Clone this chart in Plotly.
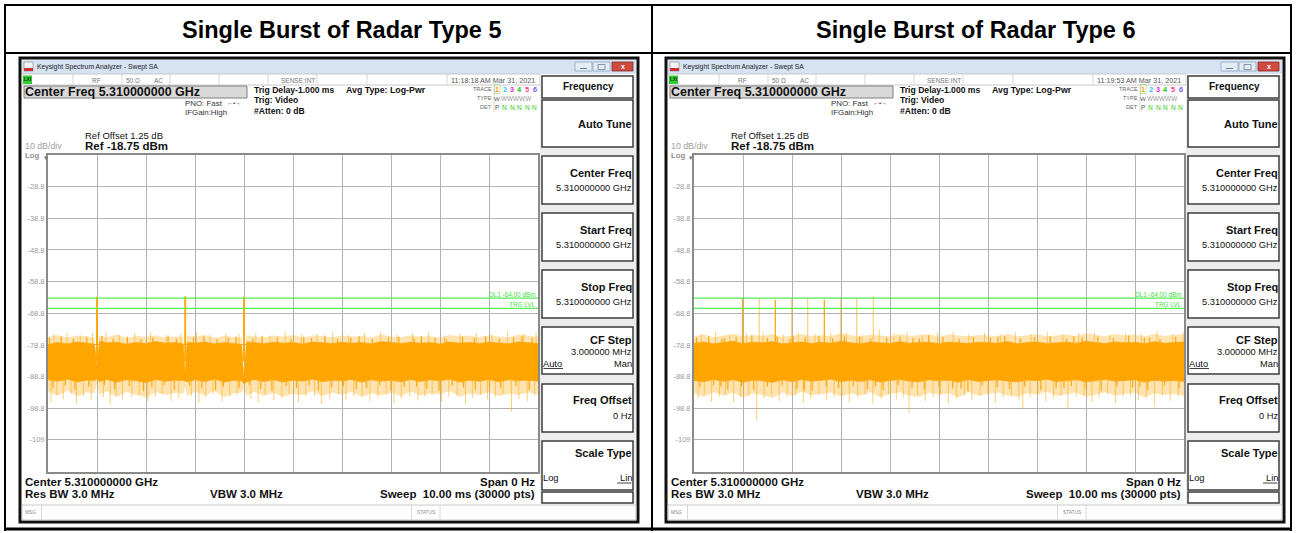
import plotly.graph_objects as go

W, H = 1296, 533
FONT = "Liberation Sans"

# ---------------- data ----------------
panel_titles = ["Single Burst of Radar Type 5", "Single Burst of Radar Type 6"]
timestamps = ["11:18:18 AM Mar 31, 2021", "11:19:53 AM Mar 31, 2021"]
sweep_ms = [0, 10]
ref_level = -18.75
bottom_level = -118.75
y_tick_vals = [-28.75, -38.75, -48.75, -58.75, -68.75, -78.75, -88.75, -98.75, -108.75]
y_tick_text = ["-28.8", "-38.8", "-48.8", "-58.8", "-68.8", "-78.8", "-88.8", "-98.8", "-109"]
dl1_level = -64.0
trg_level = -67.2
noise_mid = -84.0

# Type 5 noise band (ms, dBm)
t5 = [0.0, 0.2, 0.4, 0.6, 0.8, 0.95, 1.0, 1.05, 1.2, 1.4,
      1.6, 1.8, 2.0, 2.2, 2.4, 2.6, 2.76, 2.8, 2.84, 3.0,
      3.2, 3.4, 3.6, 3.8, 3.95, 4.0, 4.05, 4.2, 4.4, 4.6,
      4.8, 5.0, 5.2, 5.4, 5.6, 5.8, 6.0, 6.2, 6.4, 6.6,
      6.8, 7.0, 7.2, 7.4, 7.6, 7.8, 8.0, 8.2, 8.4, 8.6,
      8.8, 9.0, 9.2, 9.4, 9.6, 9.8, 10.0]
core5_hi = [-78.6, -78.0, -78.4, -77.8, -78.2, -78.5, -86.0, -77.6, -78.1, -77.9,
            -78.5, -78.0, -78.3, -77.7, -78.2, -78.0, -78.4, -88.0, -77.9, -78.2,
            -77.8, -78.4, -78.0, -78.3, -78.6, -90.0, -77.8, -78.0, -78.4, -77.9,
            -78.2, -78.0, -78.5, -77.8, -78.1, -78.3, -77.9, -78.2, -78.0, -78.4,
            -77.7, -78.1, -78.3, -77.9, -78.2, -78.0, -78.5, -77.8, -78.2, -78.0,
            -78.3, -77.9, -78.1, -78.4, -77.8, -78.0, -78.3]
core5_lo = [-89.8, -90.2, -89.6, -90.4, -89.9, -90.0, -89.5, -90.3, -89.7, -90.5,
            -89.8, -90.1, -90.6, -89.7, -90.2, -89.9, -90.0, -90.2, -90.4, -89.8,
            -90.3, -89.6, -90.5, -89.9, -90.1, -91.0, -90.4, -89.7, -90.3, -89.8,
            -90.5, -89.9, -90.2, -89.6, -90.4, -89.9, -90.1, -89.7, -90.5, -89.8,
            -90.2, -89.9, -90.4, -89.7, -90.3, -89.8, -90.1, -89.6, -90.5, -89.9,
            -90.2, -89.7, -90.4, -89.8, -90.1, -89.9, -90.2]
outer5_hi = [-76.2, -75.6, -76.4, -75.8, -76.0, -76.5, -86.0, -75.9, -76.3, -75.5,
             -76.6, -75.9, -76.2, -75.7, -76.4, -76.0, -76.3, -88.0, -75.8, -76.1,
             -75.6, -76.5, -75.9, -76.2, -76.6, -90.0, -75.7, -76.0, -76.4, -75.8,
             -76.1, -75.6, -76.5, -75.7, -76.0, -76.3, -75.8, -76.2, -75.9, -76.4,
             -75.5, -76.1, -76.3, -75.7, -76.2, -75.9, -76.5, -75.6, -76.0, -75.8,
             -76.3, -75.7, -76.1, -76.4, -75.5, -75.9, -76.2]
outer5_lo = [-93.5, -94.8, -93.2, -95.0, -93.8, -94.0, -91.0, -94.5, -93.4, -95.2,
             -93.6, -94.4, -95.4, -93.7, -94.6, -93.9, -94.2, -92.0, -95.0, -93.5,
             -94.7, -93.3, -95.3, -94.0, -93.8, -92.5, -94.9, -93.6, -94.8, -93.9,
             -95.1, -94.2, -94.6, -93.4, -95.0, -93.8, -94.5, -93.6, -95.2, -94.0,
             -94.7, -93.9, -95.0, -93.5, -94.8, -94.1, -94.4, -93.3, -95.1, -94.0,
             -94.6, -93.7, -95.0, -94.2, -94.5, -93.8, -94.4]
# faint hairline tips
t5_dn = [0.06, 0.18, 0.31, 0.47, 0.58, 0.72, 0.88, 1.13, 1.27, 1.39,
         1.52, 1.71, 1.86, 2.04, 2.19, 2.33, 2.51, 2.67, 2.93, 3.08,
         3.22, 3.37, 3.55, 3.71, 3.86, 4.14, 4.29, 4.43, 4.61, 4.77,
         4.92, 5.11, 5.26, 5.44, 5.58, 5.75, 5.93, 6.08, 6.24, 6.41,
         6.57, 6.73, 6.9, 7.06, 7.21, 7.38, 7.55, 7.69, 7.84, 8.03,
         8.18, 8.35, 8.52, 8.66, 8.83, 8.97, 9.13, 9.29, 9.46, 9.61,
         9.78, 9.93]
v5_dn = [-96.8, -94.5, -95.9, -94.2, -97.3, -95.0, -96.2, -95.4, -97.6, -94.8,
         -96.0, -95.2, -94.6, -96.7, -95.1, -94.3, -96.4, -95.7, -94.9, -97.1,
         -95.3, -94.4, -96.6, -95.0, -94.7, -95.8, -97.0, -94.5, -96.1, -95.5,
         -94.2, -96.9, -95.0, -94.6, -97.4, -95.7, -94.3, -96.2, -95.1, -94.8,
         -96.5, -95.3, -94.4, -97.2, -95.6, -94.9, -96.3, -95.0, -94.5, -96.8,
         -95.2, -94.7, -97.5, -95.4, -94.6, -96.0, -95.1, -94.3, -99.8, -95.9,
         -96.6, -94.8]
t5_up = [0.12, 0.39, 0.66, 0.91, 1.18, 1.46, 1.77, 2.09, 2.41, 2.71,
         3.03, 3.31, 3.63, 3.9, 4.24, 4.53, 4.84, 5.17, 5.49, 5.81,
         6.13, 6.46, 6.79, 7.12, 7.44, 7.77, 8.09, 8.41, 8.74, 9.06,
         9.38, 9.71, 9.96]
v5_up = [-75.4, -74.9, -75.8, -75.1, -74.6, -75.5, -75.0, -74.8, -75.7, -75.2,
         -74.7, -75.6, -75.0, -75.3, -74.9, -75.8, -74.5, -75.4, -75.1, -74.8,
         -75.6, -75.0, -74.7, -75.5, -75.2, -74.6, -75.7, -75.0, -74.9, -75.4,
         -74.5, -75.1, -74.8]
# solid edge jags
t5_jup = [0.03, 0.27, 0.52, 0.79, 1.1, 1.33, 1.62, 1.9, 2.14, 2.45,
          2.62, 2.97, 3.18, 3.45, 3.68, 3.84, 4.18, 4.37, 4.68, 4.96,
          5.22, 5.38, 5.65, 5.91, 6.18, 6.35, 6.62, 6.95, 7.16, 7.47,
          7.62, 7.9, 8.13, 8.46, 8.7, 8.93, 9.21, 9.5, 9.67, 9.88]
v5_jup = [-76.6, -76.1, -76.9, -76.3, -75.9, -76.7, -76.2, -77.0, -76.4, -75.8,
          -76.8, -76.3, -76.0, -76.9, -76.5, -76.1, -76.7, -75.9, -76.4, -77.0,
          -76.2, -76.6, -75.8, -76.8, -76.3, -76.0, -76.9, -76.4, -76.1, -76.7,
          -75.9, -76.5, -77.0, -76.2, -76.6, -76.0, -76.8, -76.3, -75.9, -76.5]
t5_jdn = [0.1, 0.35, 0.55, 0.83, 1.15, 1.36, 1.66, 1.95, 2.12, 2.37,
          2.58, 2.89, 3.14, 3.42, 3.58, 3.9, 4.11, 4.34, 4.57, 4.86,
          5.07, 5.33, 5.52, 5.79, 6.03, 6.29, 6.5, 6.77, 7.0, 7.27,
          7.52, 7.73, 7.98, 8.25, 8.48, 8.72, 9.01, 9.24, 9.55, 9.82]
v5_jdn = [-92.4, -91.6, -93.0, -92.0, -91.4, -92.8, -91.8, -93.3, -92.2, -91.5,
          -92.9, -91.7, -92.5, -93.1, -91.9, -92.3, -91.5, -92.7, -93.2, -91.8,
          -92.4, -91.6, -93.0, -92.1, -91.7, -92.8, -92.3, -91.5, -93.1, -92.0,
          -91.8, -92.6, -93.3, -91.6, -92.2, -92.9, -91.9, -92.5, -91.7, -93.0]
spike5_t = [1.0, 2.8, 4.0]
spike5_v = [-63.5, -63.4, -63.5]

# Type 6 noise band
t6 = [0.0, 0.2, 0.4, 0.6, 0.8, 1.0, 1.2, 1.4, 1.6, 1.8,
      2.0, 2.2, 2.4, 2.6, 2.8, 3.0, 3.2, 3.4, 3.6, 3.8,
      4.0, 4.2, 4.4, 4.6, 4.8, 5.0, 5.2, 5.4, 5.6, 5.8,
      6.0, 6.2, 6.4, 6.6, 6.8, 7.0, 7.2, 7.4, 7.6, 7.8,
      8.0, 8.2, 8.4, 8.6, 8.8, 9.0, 9.2, 9.4, 9.6, 9.8, 10.0]
core6_hi = [-78.2, -77.8, -78.4, -78.0, -77.6, -78.3, -77.9, -78.1, -77.7, -78.4,
            -78.0, -77.8, -78.3, -77.9, -78.2, -77.6, -78.1, -78.4, -77.8, -78.0,
            -78.3, -77.7, -78.2, -78.0, -77.9, -78.4, -77.8, -78.1, -78.3, -77.9,
            -78.0, -78.2, -77.7, -78.4, -78.0, -77.8, -78.3, -78.1, -77.9, -78.2,
            -77.6, -78.0, -78.3, -77.8, -78.1, -77.9, -78.4, -77.7, -78.2, -78.0, -77.8]
core6_lo = [-90.0, -90.4, -89.7, -90.2, -89.8, -90.5, -89.9, -90.1, -90.6, -89.8,
            -90.3, -89.7, -90.2, -90.0, -89.6, -90.4, -89.9, -90.3, -89.8, -90.5,
            -90.0, -89.7, -90.2, -90.4, -89.8, -90.1, -89.9, -90.5, -89.7, -90.3,
            -90.0, -89.8, -90.2, -90.4, -89.9, -90.1, -89.6, -90.3, -90.0, -89.8,
            -90.4, -90.1, -89.7, -90.2, -90.0, -89.8, -90.5, -89.9, -90.2, -90.0, -90.3]
outer6_hi = [-76.0, -75.5, -76.3, -75.7, -75.2, -76.1, -75.6, -75.9, -75.3, -76.2,
             -75.8, -75.4, -76.0, -75.6, -75.9, -75.1, -75.7, -76.2, -75.5, -75.8,
             -76.1, -75.3, -75.9, -75.6, -75.4, -76.2, -75.5, -75.8, -76.0, -75.6,
             -75.7, -75.9, -75.2, -76.1, -75.7, -75.4, -76.0, -75.8, -75.5, -75.9,
             -75.1, -75.6, -76.0, -75.3, -75.8, -75.5, -76.1, -75.2, -75.9, -75.6, -75.4]
outer6_lo = [-94.0, -95.2, -93.6, -94.8, -93.9, -95.4, -94.1, -94.6, -95.5, -93.7,
             -94.9, -93.5, -94.7, -94.2, -93.8, -95.1, -94.0, -94.8, -93.6, -95.3,
             -94.3, -93.7, -94.9, -95.2, -93.9, -94.5, -94.0, -95.4, -93.6, -94.8,
             -94.2, -93.8, -94.7, -95.1, -94.0, -94.5, -93.5, -94.9, -94.3, -93.8,
             -95.2, -94.4, -93.7, -94.8, -94.1, -93.9, -95.3, -94.0, -94.6, -94.2, -94.9]
t6_dn = [0.08, 0.21, 0.36, 0.52, 0.64, 0.81, 0.95, 1.12, 1.28, 1.43,
         1.58, 1.74, 1.9, 2.07, 2.23, 2.38, 2.55, 2.71, 2.86, 3.02,
         3.17, 3.34, 3.49, 3.65, 3.82, 3.97, 4.13, 4.27, 4.39, 4.56,
         4.72, 4.88, 5.03, 5.19, 5.36, 5.52, 5.67, 5.84, 6.0, 6.15,
         6.31, 6.48, 6.63, 6.71, 6.86, 7.02, 7.18, 7.34, 7.49, 7.63,
         7.8, 7.96, 8.12, 8.27, 8.44, 8.6, 8.76, 8.91, 9.07, 9.23,
         9.4, 9.56, 9.72, 9.88]
v6_dn = [-95.6, -94.4, -96.8, -95.0, -94.6, -97.1, -95.3, -94.8, -102.5, -95.7,
         -94.3, -96.4, -95.1, -94.7, -97.0, -95.5, -94.2, -96.2, -95.0, -94.9,
         -96.7, -95.2, -94.5, -97.3, -95.8, -94.4, -96.0, -95.4, -100.3, -94.6,
         -96.5, -95.1, -94.3, -97.2, -95.6, -94.8, -96.1, -95.0, -94.5, -96.9,
         -95.3, -94.7, -96.3, -99.0, -95.2, -94.4, -96.6, -95.7, -94.9, -98.7,
         -95.0, -94.6, -96.8, -95.4, -94.3, -97.0, -95.1, -94.8, -96.2, -95.5,
         -98.2, -94.7, -96.4, -95.0]
t6_up = [0.15, 0.44, 0.73, 1.07, 1.41, 1.82, 2.13, 2.47, 2.79, 3.11,
         3.43, 3.78, 4.08, 4.35, 4.66, 4.97, 5.29, 5.61, 5.93, 6.25,
         6.56, 6.88, 7.21, 7.53, 7.85, 8.17, 8.49, 8.81, 9.13, 9.45,
         9.77, 9.98]
v6_up = [-75.2, -74.7, -75.6, -75.0, -74.8, -75.4, -74.6, -75.3, -75.0, -74.9,
         -75.5, -73.8, -75.1, -74.7, -75.6, -75.0, -74.5, -75.3, -74.9, -75.5,
         -74.8, -75.2, -74.6, -75.4, -75.0, -74.7, -75.5, -74.9, -75.2, -74.4,
         -75.3, -74.8]
t6_jup = [0.05, 0.3, 0.57, 0.86, 1.18, 1.5, 1.7, 1.96, 2.27, 2.55,
          2.83, 3.07, 3.38, 3.6, 3.93, 4.2, 4.47, 4.79, 5.08, 5.41,
          5.7, 6.05, 6.34, 6.66, 6.95, 7.27, 7.6, 7.92, 8.24, 8.56,
          8.87, 9.19, 9.51, 9.83, 0.62, 2.02, 4.6, 6.2, 7.75, 9.3]
v6_jup = [-76.4, -76.0, -76.8, -76.2, -75.8, -76.6, -76.1, -76.9, -76.3, -75.9,
          -76.7, -76.2, -76.0, -76.8, -76.4, -76.1, -76.6, -75.7, -76.3, -76.9,
          -76.2, -76.5, -75.9, -76.7, -76.3, -76.0, -76.8, -76.4, -76.1, -76.6,
          -75.8, -76.5, -76.9, -76.2, -76.6, -76.0, -76.7, -76.3, -75.9, -76.4]
t6_jdn = [0.12, 0.4, 0.69, 0.97, 1.22, 1.5, 1.8, 2.1, 2.41, 2.7,
          2.95, 3.25, 3.54, 3.86, 4.17, 4.45, 4.7, 5.0, 5.28, 5.59,
          5.88, 6.19, 6.44, 6.75, 7.08, 7.39, 7.7, 8.0, 8.31, 8.63,
          8.95, 9.26, 9.6, 9.9, 0.55, 2.25, 3.7, 5.45, 7.55, 9.1]
v6_jdn = [-92.2, -91.5, -92.9, -91.8, -93.1, -92.0, -91.6, -92.7, -93.2, -91.9,
          -92.4, -91.7, -92.8, -93.0, -91.5, -92.3, -92.9, -91.8, -92.5, -93.3,
          -91.6, -92.1, -92.8, -91.9, -93.0, -92.4, -91.7, -92.6, -93.2, -91.8,
          -92.2, -92.9, -91.6, -92.5, -92.0, -93.1, -91.8, -92.6, -92.3, -91.9]
spike6_strong_t = [0.99, 1.66, 2.66]
spike6_strong_v = [-64.0, -64.5, -64.5]
spike6_faint_t = [1.33, 1.99, 2.32, 2.99, 3.32, 3.66]
spike6_faint_v = [-64.0, -64.0, -63.7, -63.7, -64.0, -63.3]

# ---------------- helpers ----------------
fig = go.Figure()
shapes, annos = [], []


def px(x):
    return x / W


def py(y):
    return 1 - y / H


def txt(x, y, s, size, color="#000", anchor="left", bold=False):
    if bold:
        s = "<b>" + s + "</b>"
    annos.append(dict(x=px(x), y=py(y), xref="paper", yref="paper", text=s,
                      showarrow=False, xanchor=anchor, yanchor="middle",
                      borderpad=0, borderwidth=0,
                      font=dict(size=size, color=color, family=FONT)))


def rect(x0, y0, x1, y1, fill="rgba(0,0,0,0)", line="rgba(0,0,0,0)", lw=0, layer="below"):
    shapes.append(dict(type="rect", xref="paper", yref="paper",
                       x0=px(x0), x1=px(x1), y0=py(y1), y1=py(y0),
                       fillcolor=fill, line=dict(color=line, width=lw), layer=layer))


def seg(x0, y0, x1, y1, color, lw, layer="above"):
    shapes.append(dict(type="line", xref="paper", yref="paper",
                       x0=px(x0), x1=px(x1), y0=py(y0), y1=py(y1),
                       line=dict(color=color, width=lw), layer=layer))


def hair(ts, vs, base):
    xs, ys = [], []
    for t, v in zip(ts, vs):
        xs += [t, t, None]
        ys += [base, v, None]
    return xs, ys


def add_lines(xa, ya, ts, vs, color, width):
    hx, hy = hair(ts, vs, noise_mid)
    fig.add_trace(go.Scatter(x=hx, y=hy, mode="lines", line=dict(color=color, width=width),
                             xaxis=xa, yaxis=ya, hoverinfo="skip", showlegend=False))


def add_band(xa, ya, t, hi, lo, color, lw):
    fig.add_trace(go.Scatter(x=t + t[::-1], y=hi + lo[::-1], fill="toself",
                             fillcolor=color, mode="lines",
                             line=dict(width=lw, color=color), xaxis=xa, yaxis=ya,
                             hoverinfo="skip", showlegend=False))


def add_limits(xa, ya):
    for lvl in (dl1_level, trg_level):
        fig.add_trace(go.Scatter(x=sweep_ms, y=[lvl, lvl], mode="lines",
                                 line=dict(color="#55ee55", width=1.2),
                                 xaxis=xa, yaxis=ya, hoverinfo="skip", showlegend=False))


# ---------------- traces ----------------
add_band("x", "y", t5, outer5_hi, outer5_lo, "rgba(255,165,0,0.3)", 0)
add_lines("x", "y", t5_dn, v5_dn, "rgba(255,165,0,0.55)", 1)
add_lines("x", "y", t5_up, v5_up, "rgba(255,165,0,0.55)", 1)
add_lines("x", "y", t5_jup, v5_jup, "#FFA500", 1.2)
add_lines("x", "y", t5_jdn, v5_jdn, "#FFA500", 1.2)
add_band("x", "y", t5, core5_hi, core5_lo, "#FFA500", 0.6)
add_lines("x", "y", spike5_t, spike5_v, "rgba(255,165,0,0.95)", 2)
add_limits("x", "y")

add_band("x2", "y2", t6, outer6_hi, outer6_lo, "rgba(255,165,0,0.3)", 0)
add_lines("x2", "y2", t6_dn, v6_dn, "rgba(255,165,0,0.55)", 1)
add_lines("x2", "y2", t6_up, v6_up, "rgba(255,165,0,0.55)", 1)
add_lines("x2", "y2", t6_jup, v6_jup, "#FFA500", 1.2)
add_lines("x2", "y2", t6_jdn, v6_jdn, "#FFA500", 1.2)
add_band("x2", "y2", t6, core6_hi, core6_lo, "#FFA500", 0.6)
add_lines("x2", "y2", spike6_strong_t, spike6_strong_v, "rgba(255,165,0,0.95)", 1.3)
add_lines("x2", "y2", spike6_faint_t, spike6_faint_v, "rgba(255,165,0,0.5)", 1.3)
add_limits("x2", "y2")


# ---------------- window decorations ----------------
def panel(dx, title, stamp):
    cx = 342 if dx == 0 else 976
    txt(cx, 30, title, 23.5, "#000", "center", True)

    # window frame
    rect(20 + dx, 58, 638 + dx, 522, "#ffffff", "#111111", 3)
    # title bar
    rect(22 + dx, 60, 636 + dx, 74, "#d5e3f3")
    rect(24 + dx, 62, 33 + dx, 71, "#f4f4f4", "#888888", 0.6)
    rect(24 + dx, 68, 33 + dx, 71, "#d23030")
    txt(37 + dx, 67, "Keysight Spectrum Analyzer - Swept SA", 6.8, "#222")
    rect(575 + dx, 62, 592 + dx, 71, "#e4ecf6", "#8ea4be", 0.8)
    rect(593 + dx, 62, 610 + dx, 71, "#e4ecf6", "#8ea4be", 0.8)
    rect(612 + dx, 62, 633 + dx, 71, "#cf4a3f", "#8a2a22", 0.8)
    seg(580 + dx, 68.5, 587 + dx, 68.5, "#6c7f96", 1)
    rect(598 + dx, 64.5, 605 + dx, 69.5, "rgba(0,0,0,0)", "#6c7f96", 0.8, "above")
    txt(622.5 + dx, 66.5, "x", 7, "#ffffff", "center", True)

    # status row
    rect(22 + dx, 74, 540 + dx, 85, "#ffffff", "#bdbdbd", 0.8)
    for xv in (73, 122, 170, 219, 268, 317, 367, 447):
        seg(xv + dx, 74, xv + dx, 85, "#cfcfcf", 0.8)
    rect(23 + dx, 75.5, 32 + dx, 84, "#2fcf2f")
    txt(27.5 + dx, 79.8, "LXI", 4.5, "#113311", "center", True)
    txt(96 + dx, 80, "RF", 6.5, "#777", "center")
    txt(133 + dx, 80, "50 Ω", 6.5, "#777", "center")
    txt(158 + dx, 80, "AC", 6.5, "#777", "center")
    txt(298 + dx, 80, "SENSE:INT", 6.5, "#777", "center")
    txt(535 + dx, 80, stamp, 7.2, "#555", "right")

    # header info
    rect(24 + dx, 86, 247 + dx, 98, "#d9d9d9", "#7f7f7f", 1)
    txt(25 + dx, 92.3, "Center Freq 5.310000000 GHz", 12.5, "#111", "left", True)
    txt(223 + dx, 103.3, "PNO: Fast", 7.9, "#333", "right")
    txt(227 + dx, 103.3, "←•→", 6, "#333", "left")
    txt(227 + dx, 112.7, "IFGain:High", 7.9, "#333", "right")
    txt(254 + dx, 90, "Trig Delay-1.000 ms", 8.6, "#111", "left", True)
    txt(254 + dx, 100, "Trig: Video", 8.6, "#111", "left", True)
    txt(254 + dx, 110.7, "#Atten: 0 dB", 8.6, "#111", "left", True)
    txt(346 + dx, 90, "Avg Type: Log-Pwr", 8.8, "#111", "left", True)

    # trace block
    txt(492 + dx, 89.3, "TRACE", 5.5, "#666", "right")
    txt(492 + dx, 98.3, "TYPE", 5.5, "#666", "right")
    txt(492 + dx, 107, "DET", 5.5, "#666", "right")
    seg(494 + dx, 84.5, 494 + dx, 112, "#cccccc", 0.8)
    rect(494.5 + dx, 84.5, 500 + dx, 93.5, "rgba(255,255,255,0)", "#b0d890", 0.8, "above")
    trace_cols = ["#f0a000", "#19c3ef", "#ea1fea", "#22c322", "#ff3b9a", "#7d55ff"]
    for i, c in enumerate(trace_cols):
        txt(497.3 + i * 7.5 + dx, 89.3, str(i + 1), 7.3, c, "center", True)
    txt(497.3 + dx, 98.3, "W", 6.2, "#555", "center")
    txt(500.5 + dx, 98.3, "WWWWW", 6.4, "#9a9a9a", "left")
    txt(497.3 + dx, 107, "P", 6.5, "#555", "center")
    for i in range(1, 6):
        txt(497.3 + i * 7.5 + dx, 107, "N", 6.5, "#2ccc2c", "center")

    # reference info
    txt(85 + dx, 135, "Ref Offset 1.25 dB", 9.5, "#111")
    txt(85 + dx, 145.5, "Ref -18.75 dBm", 11.5, "#111", "left", True)
    txt(25 + dx, 146.3, "10 dB/div", 8.8, "#a0a0a0")
    txt(25 + dx, 155.5, "Log", 7.8, "#909090", "left", True)
    txt(45.5 + dx, 157, "▾", 7, "#777", "center")

    # limit labels
    txt(536 + dx, 294.5, "DL1 -64.00 dBm", 6.4, "#44dd44", "right")
    txt(536 + dx, 304.3, "TRG LVL", 6.4, "#44dd44", "right")

    # bottom annotations
    txt(25 + dx, 481.7, "Center 5.310000000 GHz", 11.5, "#111", "left", True)
    txt(25 + dx, 493.5, "Res BW 3.0 MHz", 11.5, "#111", "left", True)
    txt(210 + dx, 493.5, "VBW 3.0 MHz", 11.5, "#111", "left", True)
    txt(535 + dx, 481.7, "Span 0 Hz", 11.5, "#111", "right", True)
    txt(535 + dx, 493.5, "Sweep&nbsp; 10.00 ms (30000 pts)", 11.5, "#111", "right", True)

    # message row
    rect(22 + dx, 505, 636 + dx, 520, "#ffffff", "#bdbdbd", 0.8)
    seg(41.5 + dx, 505, 41.5 + dx, 520, "#cfcfcf", 0.8)
    seg(411.5 + dx, 505, 411.5 + dx, 520, "#cfcfcf", 0.8)
    seg(440 + dx, 505, 440 + dx, 520, "#cfcfcf", 0.8)
    txt(25 + dx, 512.5, "MSG", 4.8, "#888")
    txt(426 + dx, 512.5, "STATUS", 4.8, "#888", "center")

    # soft-key menu
    rect(540 + dx, 75, 636 + dx, 504, "#ededed")
    boxes = [(76, 98), (100, 147), (156, 204), (213, 261), (270, 318),
             (327, 374), (384, 432), (441, 490), (492, 503)]
    for y0, y1 in boxes:
        rect(542 + dx, y0, 633 + dx, y1, "#ffffff", "#3c3c3c", 1.5)
    txt(588 + dx, 86.5, "Frequency", 10, "#111", "center", True)
    txt(632 + dx, 124, "Auto Tune", 11, "#111", "right", True)
    menu = [("Center Freq", "5.310000000 GHz", 173.3),
            ("Start Freq", "5.310000000 GHz", 230),
            ("Stop Freq", "5.310000000 GHz", 286.7)]
    for head, val, yy in menu:
        txt(632 + dx, yy, head, 11, "#111", "right", True)
        txt(632 + dx, yy + 15, val, 9.3, "#111", "right")
    txt(632 + dx, 340, "CF Step", 11, "#111", "right", True)
    txt(632 + dx, 351.7, "3.000000 MHz", 9.3, "#111", "right")
    txt(543 + dx, 363.5, "Auto", 9.3, "#111", "left")
    seg(543.5 + dx, 368.5, 563 + dx, 368.5, "#111", 0.8)
    txt(632 + dx, 363.5, "Man", 9.3, "#111", "right")
    txt(632 + dx, 400, "Freq Offset", 11, "#111", "right", True)
    txt(632 + dx, 416, "0 Hz", 9.3, "#111", "right")
    txt(632 + dx, 453, "Scale Type", 11, "#111", "right", True)
    txt(543 + dx, 478, "Log", 9.3, "#111", "left")
    txt(632 + dx, 478, "Lin", 9.3, "#111", "right")
    seg(617 + dx, 483, 631.5 + dx, 483, "#111", 0.8)


panel(0, panel_titles[0], timestamps[0])
panel(646, panel_titles[1], timestamps[1])

# table lines
seg(4, 5, 1292, 5, "#000", 2)
seg(4, 53, 1292, 53, "#000", 2)
seg(5, 4, 5, 531, "#000", 2)
seg(652, 4, 652, 531, "#000", 2)
seg(1291, 4, 1291, 531, "#000", 2)
seg(4, 529, 1292, 529, "#000", 3)

# ---------------- axes ----------------
gx = dict(range=sweep_ms, showgrid=True, gridcolor="#b2b2b2", gridwidth=1, dtick=1, tick0=0,
          showticklabels=False, zeroline=False, showline=True, linecolor="#8a8a8a",
          linewidth=2, mirror=True, ticks="", fixedrange=True)
gy = dict(range=[bottom_level, ref_level], tickvals=y_tick_vals, ticktext=y_tick_text,
          showgrid=True, gridcolor="#b2b2b2", gridwidth=1, zeroline=False, showline=True,
          linecolor="#8a8a8a", linewidth=2, mirror=True, ticks="", fixedrange=True,
          tickfont=dict(size=7.5, color="#9a9a9a", family=FONT))
ydom = [py(471.5), py(155)]

fig.update_layout(
    width=W, height=H, autosize=False,
    margin=dict(l=0, r=0, t=0, b=0),
    paper_bgcolor="#ffffff", plot_bgcolor="rgba(0,0,0,0)",
    showlegend=False,
    xaxis=dict(gx, domain=[px(48), px(538)], anchor="y"),
    yaxis=dict(gy, domain=ydom, anchor="x"),
    xaxis2=dict(gx, domain=[px(694), px(1184)], anchor="y2"),
    yaxis2=dict(gy, domain=ydom, anchor="x2"),
    shapes=shapes, annotations=annos,
    font=dict(family=FONT),
)

fig.write_html("out.html", config={"displayModeBar": False})
